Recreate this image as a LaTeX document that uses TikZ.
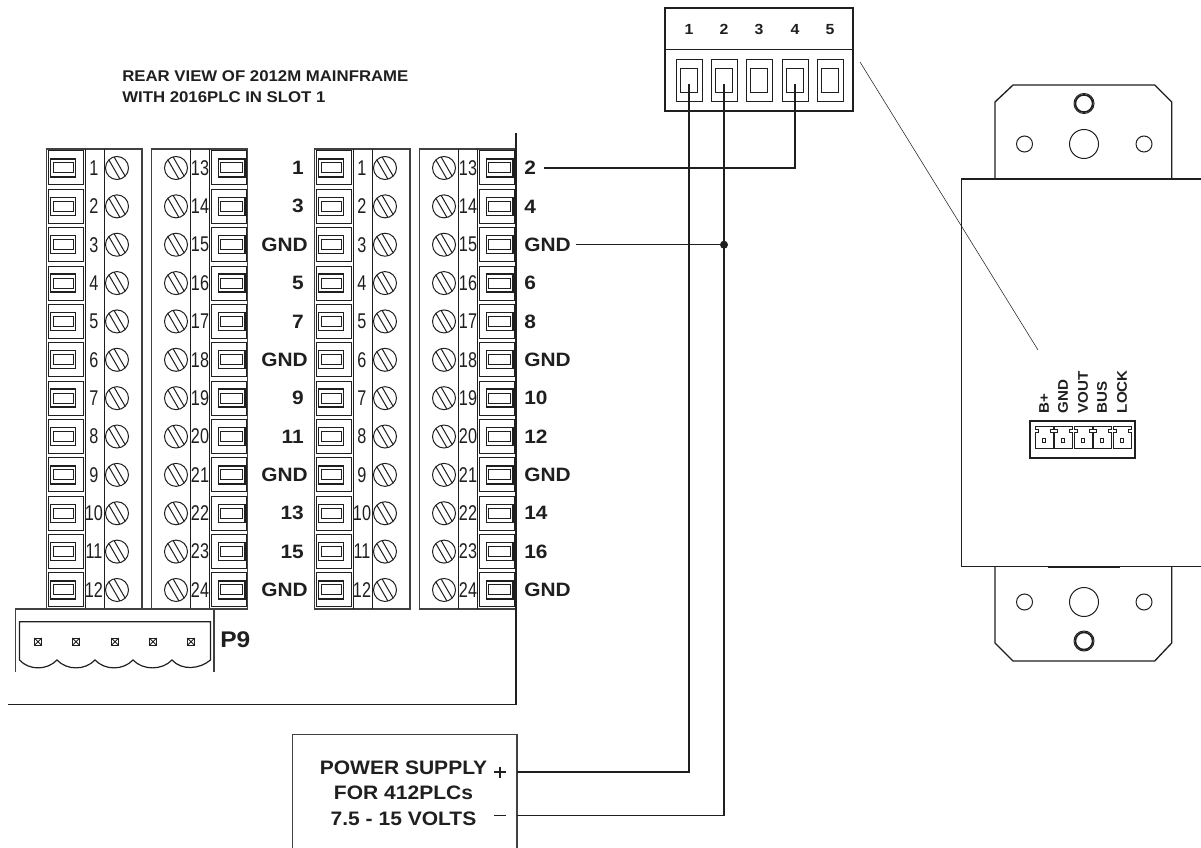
\documentclass[tikz,border=0pt]{standalone}
\usepackage{fontspec}
\setmainfont{Liberation Sans}
\newfontfamily\numfont[FakeStretch=0.76]{Liberation Sans}
\newfontfamily\boldwide[FakeStretch=1.08]{Liberation Sans Bold}
\usetikzlibrary{calc}
\definecolor{ink}{HTML}{1F1F1F}
\tikzset{
  wire/.style={draw=ink,line width=0.9pt},
  thinl/.style={draw=ink,line width=0.75pt},
  frame/.style={draw=ink!85,line width=1.2pt},
  numtxt/.style={inner sep=0pt,text=ink,font=\numfont\fontsize{16}{16}\selectfont},
  sig/.style={inner sep=0pt,text=ink,font=\boldwide\fontsize{14.5}{15}\selectfont},
  pintxt/.style={inner sep=0pt,text=ink,anchor=base,font=\boldwide\fontsize{11}{11}\selectfont},
  headtxt/.style={inner sep=0pt,text=ink,align=left,font=\boldwide\fontsize{11.65}{16}\selectfont},
  psutxt/.style={inner sep=0pt,text=ink,align=center,font=\boldwide\fontsize{14.6}{19.1}\selectfont},
  minitxt/.style={inner sep=0pt,text=ink,rotate=90,anchor=west,font=\boldwide\fontsize{10.5}{11}\selectfont},
  screwhead/.pic={
    \draw[thinl] (0,0) circle[radius=11.5];
    \draw[thinl] (-2.95,-11.1) -- (8.15,8.1);
    \draw[thinl] (-8.15,-8.1) -- (2.95,11.1);
  },
  termleft/.pic={
    \draw[thinl] (48,-17) rectangle (83,17);
    \draw[line width=1pt,draw=ink] (50.7,-9) rectangle (75.3,9);
    \draw[thinl] (53,-5) rectangle (73,5);
  },
  termright/.pic={
    \draw[thinl] (211,-17) rectangle (246,17);
    \draw[line width=1pt,draw=ink] (218.5,-9) rectangle (245,9);
    \draw[thinl] (220.5,-5) rectangle (242.5,5);
  },
  contact/.pic={
    \draw[thinl] (-13,-21) rectangle (13,21.5);
    \draw[line width=0.95pt,draw=ink] (-8.2,-12) rectangle (8.2,12);
  },
  minipin/.pic={
    \draw[thinl] (-9,-14.5) -- (9,-14.5) -- (9,-11.5) -- (6,-11.5) -- (6,-8.5) -- (9,-8.5) -- (9,8) -- (-9,8) -- (-9,-8.5) -- (-6,-8.5) -- (-6,-11.5) -- (-9,-11.5) -- cycle;
    \draw[thinl] (-1.8,-1.8) rectangle (1.8,1.8);
  },
  xsquare/.pic={
    \draw[thinl] (-3.7,-3.7) rectangle (3.7,3.7);
    \draw[line width=0.6pt,draw=ink] (-3.7,-3.7) -- (3.7,3.7) (-3.7,3.7) -- (3.7,-3.7);
  },
  bigring/.pic={
    \draw[line width=1.2pt,draw=ink] (0,0) circle[radius=8.6];
    \draw[thinl] (0,0) circle[radius=10];
  }
}
\begin{document}
\begin{tikzpicture}[x=0.75pt,y=-0.75pt]
\useasboundingbox (0,0) rectangle (1201,848);

% block frames
\foreach \dx/\blk in {0/A,268/B}{
  \begin{scope}[xshift=\dx*0.75pt]
    \draw[frame] (46.5,149) rectangle (142,609);
    \draw[frame] (151.5,149) rectangle (247.5,609);
    \draw[thinl] (85,149) -- (85,609) (104,149) -- (104,609);
    \draw[thinl] (190,149) -- (190,609) (209,149) -- (209,609);
    \foreach \i in {1,...,12}{
      \pgfmathsetmacro{\yy}{168+38.36*(\i-1)}
      \pgfmathtruncatemacro{\jj}{\i+12}
      \pic at (0,\yy) {termleft};
      \pic at (0,\yy) {termright};
      \pic at (117,\yy) {screwhead};
      \pic at (176,\yy) {screwhead};
      \node[numtxt] (num\blk\i) at (94,\yy) {\i};
      \node[numtxt] (num\blk\jj) at (200,\yy) {\jj};
    }
  \end{scope}
}
% chassis
\draw[wire,line width=1.2pt] (516,133) -- (516,704.5) -- (8,704.5);

% signal labels
\foreach \i/\t in {1/1,2/3,3/GND,4/5,5/7,6/GND,7/9,8/11,9/GND,10/13,11/15,12/GND}{
  \pgfmathsetmacro{\yy}{168+38.36*(\i-1)}
  \ifnum\i=3 \def\xx{308}\else\ifnum\i=6 \def\xx{308}\else\ifnum\i=9 \def\xx{308}\else\ifnum\i=12 \def\xx{308}\else\def\xx{304}\fi\fi\fi\fi
  \node[sig,anchor=east] (sl\i) at (\xx,\yy) {\t};
}
\foreach \i/\t in {1/2,2/4,3/GND,4/6,5/8,6/GND,7/10,8/12,9/GND,10/14,11/16,12/GND}{
  \pgfmathsetmacro{\yy}{168+38.36*(\i-1)}
  \node[sig,anchor=west] (sr\i) at (524,\yy) {\t};
}

% P9
\draw[frame,line width=1pt] (15.5,672) |- (214,609) -- (214,672);
\draw[thinl,line width=0.9pt] (19.5,660) |- (210.5,621.7) -- (210.5,660)
  .. controls (200,669) and (182,671) .. (172,660)
  .. controls (162,670.5) and (143,670.5) .. (133,660)
  .. controls (123,670.5) and (105,670.5) .. (95,660)
  .. controls (85,670.5) and (67,670.5) .. (57,660)
  .. controls (47,670.5) and (29,670.5) .. (19.5,660);
\foreach \x in {38,76,115,153,191}{ \pic at (\x,641.7) {xsquare}; }
\node[sig,anchor=west,font=\boldwide\fontsize{17}{17}\selectfont] (p9) at (220,640) {P9};

% heading
\node[headtxt,anchor=north west] (head) at (122,70.5) {REAR VIEW OF 2012M MAINFRAME\\WITH 2016PLC IN SLOT 1};

% top connector
\node[draw=ink,line width=1pt,minimum width=188*0.75pt,minimum height=103*0.75pt,inner sep=0pt] (conn) at (759,59.5) {};
\draw[wire] (conn.west |- 0,49.5) coordinate (divl) -- (divl -| conn.east);
\foreach \i/\x in {1/689,2/724,3/759,4/795,5/830}{
  \pic at (\x,80.5) {contact};
  \node[pintxt] (pin\i) at (\x,35) {\i};
  \coordinate (c\i) at (\x,84);
}

% power supply
\draw[frame,line width=1pt] (292.3,848) |- (517,734.7) -- (517,848);
\node[psutxt] (psu) at (403.5,793) {POWER SUPPLY\\FOR 412PLCs\\7.5 - 15 VOLTS};
\coordinate (psup) at (517,772);
\coordinate (psum) at (517,815.7);
\draw[line width=1pt,draw=ink] (494,772) -- (506,772) (500,766.5) -- (500,777.5);
\draw[line width=1pt,draw=ink] (494,815.7) -- (506,815.7);

% wires
\coordinate (junc) at (c2 |- sr3);
\draw[wire] (c1) |- (psup);
\draw[wire] (c2) |- (psum);
\draw[wire] (c4) |- ([xshift=8*0.75pt]sr1.east);
\draw[wire] ([xshift=5*0.75pt]sr3.east) -- (junc);
\fill[ink] (junc) circle[radius=4];

% leader
\coordinate (leadA) at (860,62);
\coordinate (leadB) at (1038,350);
\draw[draw=ink,line width=0.4pt] (leadA) -- (leadB);

% wall plate
\draw[wire,line width=1pt] (995,179) -- (995,102) -- (1013,85) -- (1154.7,85) -- (1171.7,102) -- (1171.7,179);
\draw[wire,line width=1pt] (995,566.7) -- (995,643) -- (1013,661) -- (1154.7,661) -- (1171.7,643) -- (1171.7,566.7);
\draw[wire,line width=1pt] (1201,179) -- (961.7,179) -- (961.7,566.7) -- (1201,566.7);
\draw[ink,line width=1.8pt] (1048,567) -- (1120,567);
\foreach \y in {144,602}{
  \draw[thinl] (1024.5,\y) circle[radius=8];
  \draw[thinl] (1144,\y) circle[radius=8];
  \draw[thinl] (1084,\y) circle[radius=14.5];
}
\pic at (1084,103.5) {bigring};
\pic at (1084,641) {bigring};

% mini connector
\node[draw=ink,line width=1pt,minimum width=105*0.75pt,minimum height=37*0.75pt,inner sep=0pt] (mini) at (1082.5,439.5) {};
\foreach \x/\t in {1044/B+,1063/GND,1083/VOUT,1102/BUS,1122/LOCK}{
  \pic at (\x,440.7) {minipin};
  \node[minitxt] (m\t) at (\x,413.5) {\t};
}
\end{tikzpicture}
\end{document}
